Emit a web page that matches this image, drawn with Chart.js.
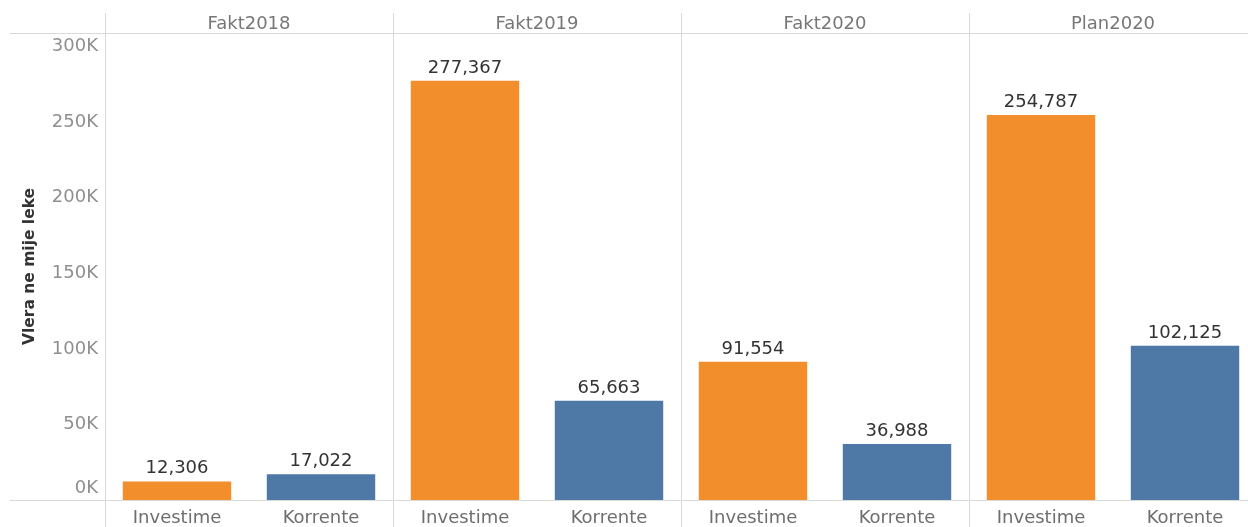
<!DOCTYPE html>
<html>
<head>
<meta charset="utf-8">
<script src="https://cdn.jsdelivr.net/npm/chart.js@4.4.1/dist/chart.umd.min.js"></script>
<style>
  html, body { margin: 0; padding: 0; background: #ffffff; overflow: hidden; width: 1248px; height: 527px; }
  canvas { display: block; }
</style>
</head>
<body>
<canvas id="c" width="1257" height="527"></canvas>
<script>
// ---- data ----
const panels = ['Fakt2018', 'Fakt2019', 'Fakt2020', 'Plan2020'];
const types = ['Investime', 'Korrente'];
const investime = [12306, 277367, 91554, 254787];
const korrente = [17022, 65663, 36988, 102125];
const yTicks = [0, 50000, 100000, 150000, 200000, 250000, 300000];
const yTitle = 'Vlera ne mije leke';

const colors = { Investime: '#f28e2b', Korrente: '#4e79a7' };
const gridColor = '#d9d9d9';

const labels = [];
const values = [];
const barColors = [];
panels.forEach((p, i) => {
  labels.push(types[0]); values.push(investime[i]); barColors.push(colors[types[0]]);
  labels.push(types[1]); values.push(korrente[i]); barColors.push(colors[types[1]]);
});

Chart.defaults.font.family = "'DejaVu Sans', sans-serif";

const dataLabelPlugin = {
  id: 'dataLabels',
  afterDatasetsDraw(chart) {
    const ctx = chart.ctx;
    const meta = chart.getDatasetMeta(0);
    ctx.save();
    ctx.font = "18px 'DejaVu Sans', sans-serif";
    ctx.fillStyle = '#333333';
    ctx.textAlign = 'center';
    ctx.textBaseline = 'alphabetic';
    meta.data.forEach((bar, i) => {
      const v = chart.data.datasets[0].data[i];
      ctx.fillText(v.toLocaleString('en-US'), bar.x, bar.y - 8);
    });
    ctx.restore();
  }
};

const framePlugin = {
  id: 'frameExt',
  beforeDraw(chart) {
    const ys = chart.scales.y;
    const items = ys.getLabelItems();
    items.forEach(it => {
      if (it.label === '0K' && !it._shifted) {
        it.options.translation[1] -= 12;
        it._shifted = true;
      }
    });
  },
  afterDraw(chart) {
    const ctx = chart.ctx;
    const a = chart.chartArea;
    ctx.save();
    ctx.strokeStyle = gridColor;
    ctx.lineWidth = 1;
    ctx.beginPath();
    const yt = Math.round(a.top) + 0.5;
    const yb = Math.round(a.bottom) + 0.5;
    ctx.moveTo(10, yt); ctx.lineTo(a.left, yt);
    ctx.moveTo(10, yb); ctx.lineTo(a.left, yb);
    ctx.stroke();
    ctx.restore();
  }
};

new Chart(document.getElementById('c'), {
  type: 'bar',
  data: {
    labels: labels,
    datasets: [{
      data: values,
      backgroundColor: barColors,
      borderWidth: 0,
      barPercentage: 0.753,
      categoryPercentage: 1.0
    }]
  },
  options: {
    responsive: false,
    animation: false,
    events: [],
    layout: { padding: { top: 13, right: 0, bottom: 0, left: 0 } },
    plugins: {
      legend: { display: false },
      tooltip: { enabled: false },
      title: { display: false }
    },
    scales: {
      x: {
        type: 'category',
        position: 'bottom',
        offset: true,
        grid: {
          offset: true,
          drawOnChartArea: true,
          drawTicks: true,
          tickLength: 27,
          color: (c) => (c.index !== undefined && c.index % 2 === 0) ? gridColor : 'rgba(0,0,0,0)'
        },
        border: { display: true, color: gridColor, width: 1 },
        ticks: {
          color: '#6e6e6e',
          font: { size: 18 },
          padding: -19,
          autoSkip: false,
          maxRotation: 0,
          minRotation: 0
        },
        afterFit(s) { s.height = 27; }
      },
      xTop: {
        type: 'category',
        position: 'top',
        labels: panels,
        offset: true,
        grid: {
          offset: true,
          drawOnChartArea: false,
          drawTicks: true,
          tickLength: 20,
          color: gridColor
        },
        border: { display: true, color: gridColor, width: 1 },
        ticks: {
          color: '#777777',
          font: { size: 18 },
          padding: -22,
          autoSkip: false,
          maxRotation: 0,
          minRotation: 0
        },
        afterFit(s) { s.height = 20; }
      },
      y: {
        type: 'linear',
        position: 'left',
        min: 0,
        max: 309000,
        grid: { display: false, drawTicks: false },
        border: { display: false },
        afterBuildTicks(s) { s.ticks = yTicks.map(v => ({ value: v })); },
        ticks: {
          color: '#8f8f8f',
          font: { size: 18 },
          padding: 7,
          callback: (v) => (v / 1000) + 'K'
        },
        title: {
          display: true,
          text: yTitle,
          color: '#333333',
          font: { size: 15.5, weight: 'bold' },
          padding: { top: 21, bottom: 0 }
        },
        afterFit(s) { s.width = 105; }
      }
    }
  },
  plugins: [dataLabelPlugin, framePlugin]
});
</script>
</body>
</html>
